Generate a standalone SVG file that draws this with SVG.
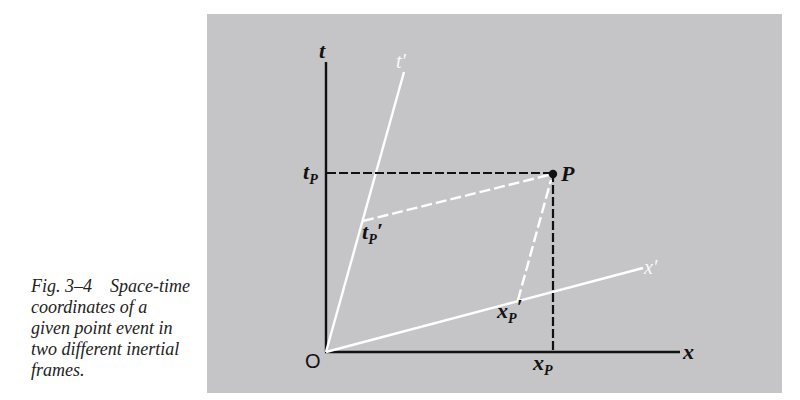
<svg xmlns="http://www.w3.org/2000/svg" width="800" height="400" viewBox="0 0 800 400">
<style>
.cap{font-family:"Liberation Serif",serif;font-style:italic;font-size:18px;fill:#222}
.lbl{font-family:"Liberation Serif",serif;font-style:italic;font-weight:bold;font-size:22px;fill:#111}
.sub{font-size:14px}
.wl{font-family:"Liberation Serif",serif;font-style:italic;font-size:20px;fill:#fafafa}
.ax{stroke:#111;stroke-width:2.4;fill:none}
.bd{stroke:#111;stroke-width:2.2;stroke-dasharray:9,3;fill:none}
.wd{stroke:#ffffff;stroke-width:2.4;stroke-dasharray:11,4;fill:none}
.wa{stroke:#ffffff;stroke-width:2.4;fill:none}
</style>
<rect width="800" height="400" fill="#ffffff"/>
<rect x="207" y="14" width="575" height="379" fill="#c5c4c6"/>
<g id="caption">
<text class="cap" x="31" y="292">Fig. 3–4<tspan x="110">Space-time</tspan></text>
<text class="cap" x="31" y="313">coordinates of a</text>
<text class="cap" x="31" y="334">given point event in</text>
<text class="cap" x="31" y="355">two different inertial</text>
<text class="cap" x="31" y="376">frames.</text>
</g>
<g id="connectors">
<line id="t-axis" class="ax" x1="326" y1="62" x2="326" y2="352"/>
<line id="x-axis" class="ax" x1="325" y1="352" x2="680" y2="352"/>
<line id="tprime-axis" class="wa" x1="326" y1="352" x2="404" y2="72"/>
<line id="xprime-axis" class="wa" x1="326" y1="352" x2="643" y2="268"/>
<line class="bd" x1="327" y1="173" x2="553" y2="173"/>
<line class="bd" x1="553" y1="173" x2="553" y2="352"/>
<line class="wd" x1="363" y1="221" x2="549" y2="175"/>
<line class="wd" x1="518" y1="300" x2="551" y2="180"/>
</g>
<g id="P"><circle cx="553" cy="174" r="4.2" fill="#111"/><text class="lbl" x="561" y="181">P</text></g>
<g id="O"><text x="305" y="368" font-family="Liberation Sans,sans-serif" font-size="20" fill="#111">O</text></g>
<g id="t-label"><text class="lbl" x="319" y="58" font-size="24">t</text></g>
<g id="x-label"><text class="lbl" x="683" y="359">x</text></g>
<g id="tprime-label"><text class="wl" x="396" y="68">t′</text></g>
<g id="xprime-label"><text class="wl" x="644" y="274">x′</text></g>
<g id="tP"><text class="lbl" x="303" y="179">t<tspan class="sub" dy="5">P</tspan></text></g>
<g id="tPprime"><text class="lbl" x="362" y="239">t<tspan class="sub" dy="5">P</tspan><tspan dy="-6">′</tspan></text></g>
<g id="xP"><text class="lbl" x="533" y="370">x<tspan class="sub" dy="5">P</tspan></text></g>
<g id="xPprime"><text class="lbl" x="497" y="318">x<tspan class="sub" dy="5">P</tspan><tspan dy="-9">′</tspan></text></g>
</svg>
